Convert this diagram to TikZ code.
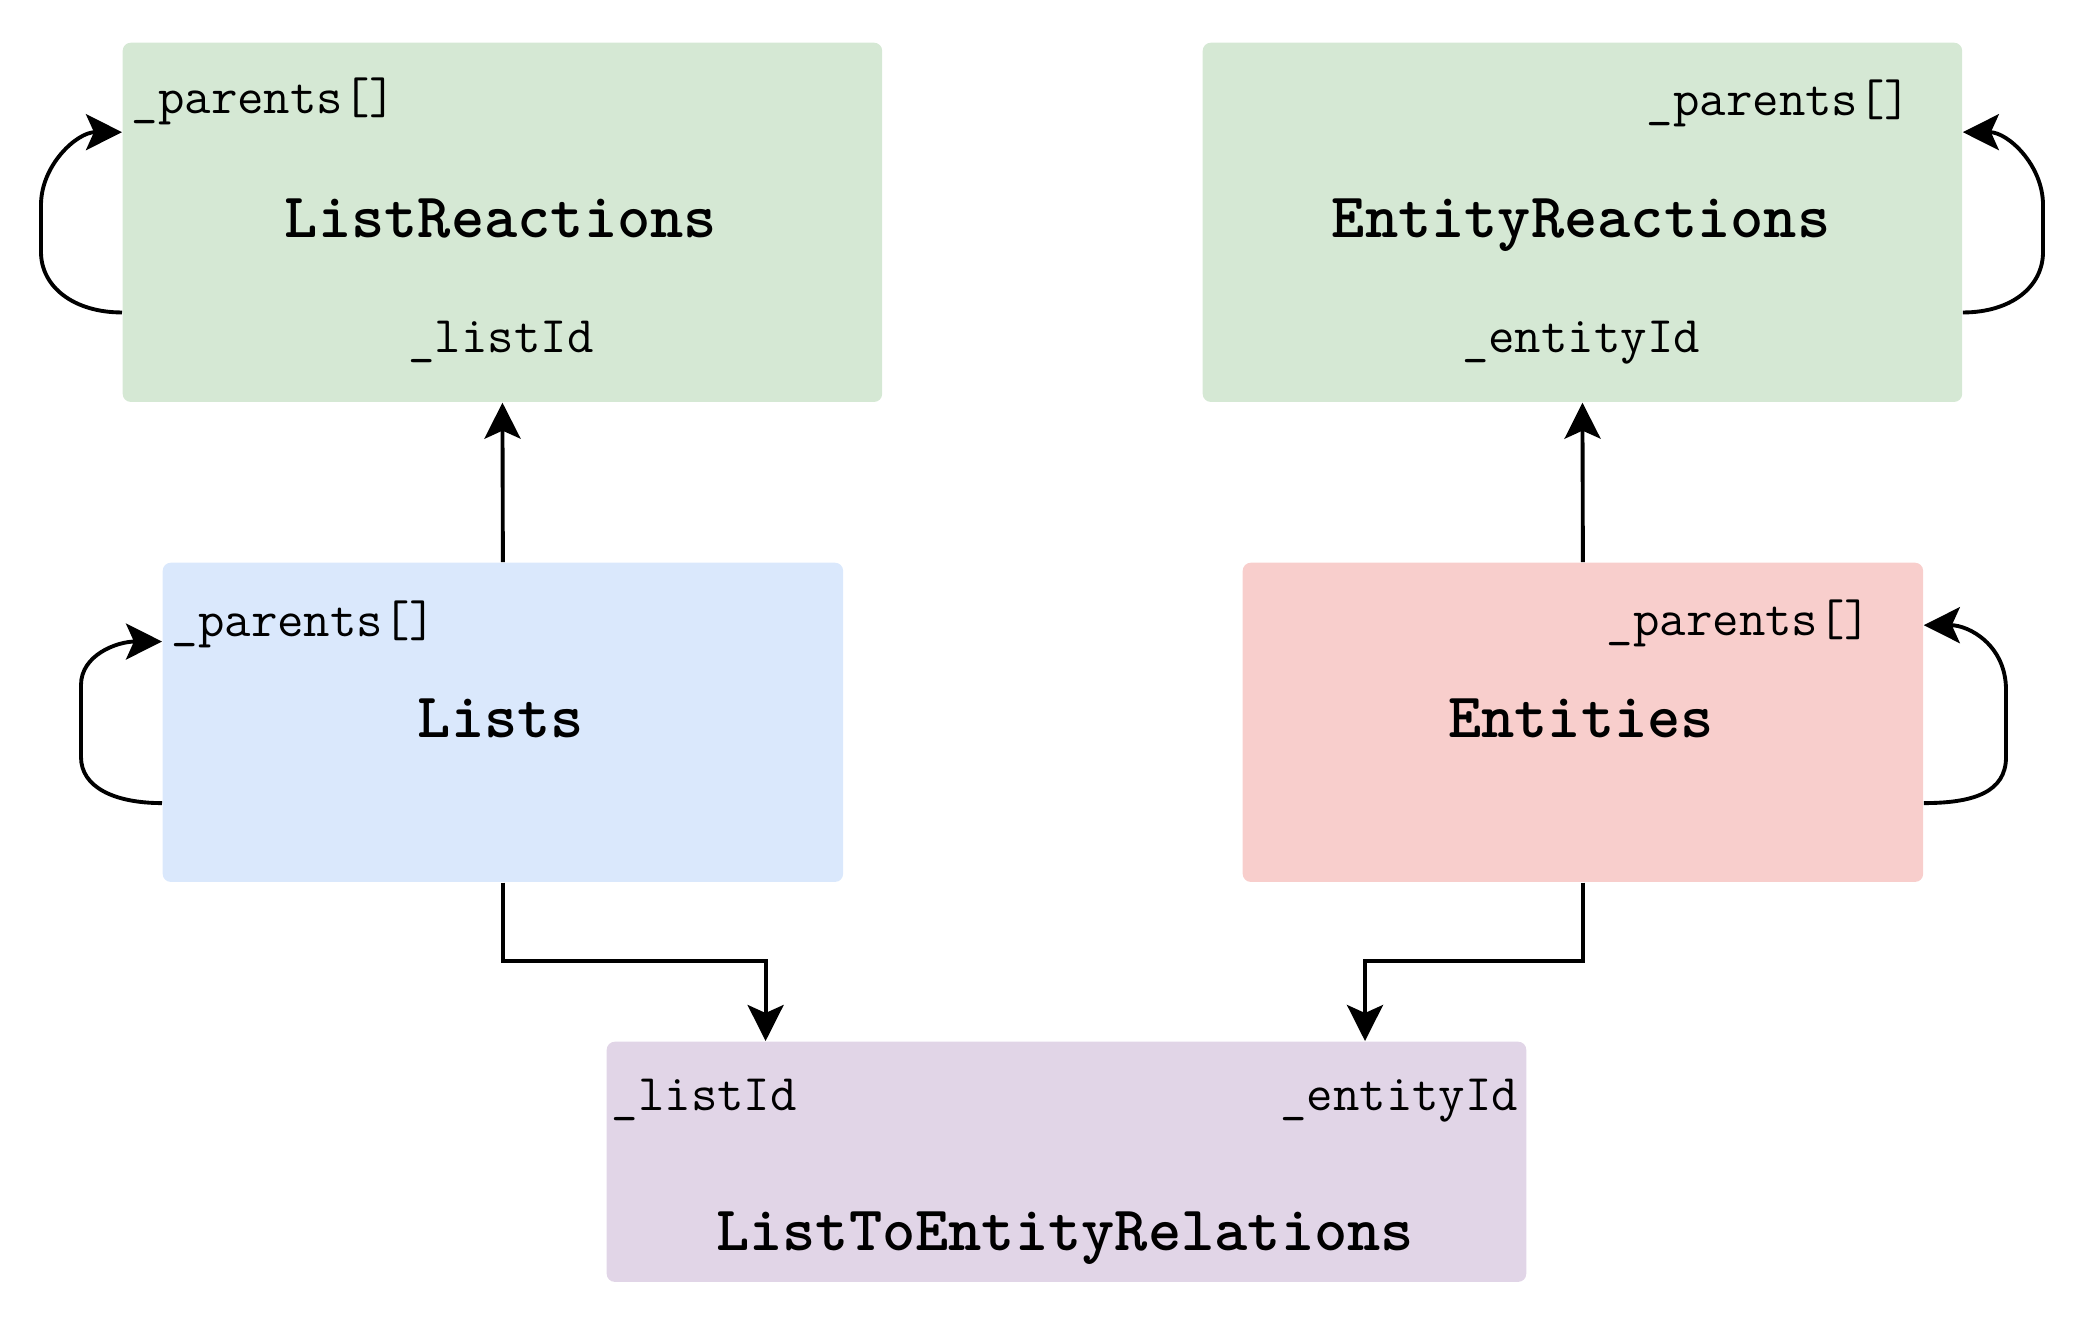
\documentclass[tikz,border=0pt]{standalone}
\usepackage{fontspec}
\usetikzlibrary{arrows.meta,calc}
\definecolor{cgreen}{HTML}{D5E8D4}
\definecolor{cblue}{HTML}{DAE8FC}
\definecolor{cred}{HTML}{F8CECC}
\definecolor{cpurple}{HTML}{E1D5E7}
\begin{document}
\begin{tikzpicture}[x=0.01cm,y=-0.01cm,
  box/.style={draw=none, rounded corners=0.08cm, anchor=north west, inner sep=0pt},
  small/.style={font=\fontsize{14.6}{16}\selectfont\ttfamily, inner sep=0pt, text=black},
  title/.style={font=\fontsize{18}{20}\selectfont\ttfamily\bfseries, inner sep=0pt, text=black},
  arr/.style={draw=black, line width=1.1pt, -{Stealth[length=0.36cm, width=0.36cm, inset=0.08cm]}}]
\useasboundingbox (0,0) rectangle (2088,1320);
% boxes
\node[box, fill=cgreen, minimum width=7.59cm, minimum height=3.59cm] (LR) at (122,42) {};
\node[box, fill=cgreen, minimum width=7.59cm, minimum height=3.59cm] (ER) at (1202,42) {};
\node[box, fill=cblue, minimum width=6.80cm, minimum height=3.19cm] (L) at (162,562) {};
\node[box, fill=cred, minimum width=6.80cm, minimum height=3.19cm] (E) at (1242,562) {};
\node[box, fill=cpurple, minimum width=9.19cm, minimum height=2.40cm] (R) at (606,1041) {};
% texts
\node[small, anchor=base west] (LRp) at (131,113) {\_parents[]};
\node[title, anchor=base] (LRt) at (501,237) {ListReactions};
\node[small, anchor=base] (LRi) at (501,352) {\_listId};
\node[small, anchor=base east] (ERp) at (1912,115) {\_parents[]};
\node[title, anchor=base] (ERt) at (1581,237) {EntityReactions};
\node[small, anchor=base] (ERi) at (1581,352) {\_entityId};
\node[small, anchor=base west] (Lp) at (171,636) {\_parents[]};
\node[title, anchor=base] (Lt) at (501,737) {Lists};
\node[small, anchor=base east] (Ep) at (1872,635) {\_parents[]};
\node[title, anchor=base] (Et) at (1581,737) {Entities};
\node[small, anchor=base west] (Ri) at (611,1110) {\_listId};
\node[small, anchor=base east] (Re) at (1519,1110) {\_entityId};
\node[title, anchor=base] (Rt) at (1065,1250) {ListToEntityRelations};
% straight connectors
\draw[arr] (L.north) -- (LR.south);
\draw[arr] (E.north) -- (ER.south);
\draw[arr] (L.south) |- (765.6,961) -- (R.north -| 765.6,0);
\draw[arr] (E.south) |- (1365,961) -- (R.north -| 1365,0);
% self loops
\coordinate (LRa) at ($(LR.north west)!0.75!(LR.south west)$);
\coordinate (LRb) at ($(LR.north west)!0.25!(LR.south west)$);
\draw[arr] (LRa) .. controls +(-48,0) and +(0,35) .. (41,252) -- (41,205) .. controls +(0,-40) and +(-45,0) .. (LRb);
\coordinate (ERa) at ($(ER.north east)!0.75!(ER.south east)$);
\coordinate (ERb) at ($(ER.north east)!0.25!(ER.south east)$);
\draw[arr] (ERa) .. controls +(48,0) and +(0,35) .. (2043,252) -- (2043,205) .. controls +(0,-40) and +(45,0) .. (ERb);
\coordinate (La) at ($(L.north west)!0.752!(L.south west)$);
\coordinate (Lb) at ($(L.north west)!0.248!(L.south west)$);
\draw[arr] (La) .. controls +(-48,0) and +(0,30) .. (81,757) -- (81,685) .. controls +(0,-30) and +(-45,0) .. (Lb);
\coordinate (Ea) at ($(E.north east)!0.752!(E.south east)$);
\coordinate (Eb) at ($(E.north east)!0.197!(E.south east)$);
\draw[arr] (Ea) .. controls +(50,0) and +(0,35) .. (2006,757) -- (2006,690) .. controls +(0,-45) and +(45,0) .. (Eb);
\end{tikzpicture}
\end{document}
